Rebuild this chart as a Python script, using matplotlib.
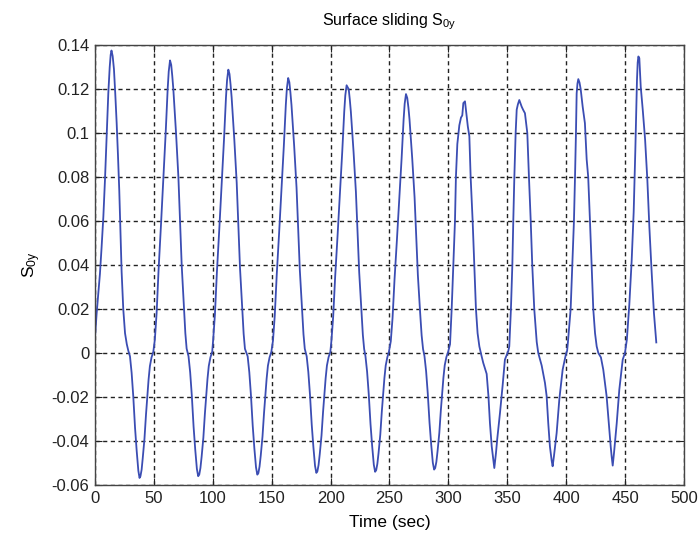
import matplotlib
matplotlib.use('Agg')
import matplotlib.pyplot as plt
from matplotlib.ticker import FixedLocator

plt.rcParams['font.family'] = ['Liberation Sans', 'DejaVu Sans']
plt.rcParams['mathtext.fontset'] = 'custom'
plt.rcParams['mathtext.rm'] = 'Liberation Sans'
plt.rcParams['mathtext.default'] = 'regular'
plt.rcParams['axes.unicode_minus'] = False

# 读图得到的数据: 时间 (sec) 与 S0y
time_sec = [
    # cycle 1
    0, 1.4, 2.8, 4.2, 5.6, 7.1, 8.5, 10, 11.3, 12.5, 13.3, 14, 15, 16.1, 17.2, 18.4, 19.5, 20.6, 21.6, 22.6, 24, 25.5, 27, 28.3,
    29.7, 31.1, 32.5, 34, 35.4, 36.8, 37.8, 38.6, 39.6, 40.5, 42, 43.3, 44.5, 45.5, 46.6, 48, 49.5,
    # cycle 2
    50.8, 52.3, 54, 56, 58, 60, 61.7, 62.6, 63.7, 64.7, 65.6, 66.5, 68.8, 70.8, 72.2, 73.6, 75.6, 76.7, 77.8,
    79.4, 80.8, 82.2, 83.7, 85.1, 86.5, 87.6, 88.5, 89.5, 90.5, 92, 93.3, 94.5, 95.5, 96.6, 98, 99.5,
    # cycle 3
    100.3, 101.8, 103.5, 105.5, 107.5, 109.5, 111.2, 112.1, 113.2, 114.2, 115.1, 116, 118.3, 120.3, 121.7, 123.1, 125.1, 126.2, 127.3,
    129.6, 131, 132.4, 133.9, 135.3, 136.7, 137.8, 138.7, 139.7, 140.7, 142.2, 143.5, 144.7, 145.7, 146.8, 148.2, 149.7,
    # cycle 4
    151.1, 152.6, 154.3, 156.3, 158.3, 160.3, 162, 162.9, 164, 165, 165.9, 166.8, 169.1, 171.1, 172.5, 173.9, 175.9, 177, 178.1,
    179.7, 181.1, 182.5, 184, 185.4, 186.8, 187.9, 188.8, 189.8, 190.8, 192.3, 193.6, 194.8, 195.8, 196.9, 198.3, 199.8,
    # cycle 5
    200.7, 202.2, 203.9, 205.9, 207.9, 209.9, 211.6, 212.5, 213.6, 215.4, 216.3, 217.2, 219.5, 221.5, 222.9, 224.3, 226.3, 227.4, 228.5,
    229.6, 231, 232.4, 233.9, 235.3, 236.7, 237.8, 238.7, 239.7, 240.7, 242.2, 243.5, 244.7, 245.7, 246.8, 248.2, 249.5,
    # cycle 6
    251.1, 252.6, 254.3, 256.3, 258.3, 260.3, 262, 262.9, 264, 265.1, 266.1, 267, 269.3, 271.3, 272.7, 274.1, 276.1, 277.3, 278.5,
    279.7, 281.1, 282.5, 284, 285.4, 286.8, 287.9, 288.8, 289.8, 290.8, 292.3, 293.6, 294.8, 295.8, 296.9, 298.3,
    # cycle 7
    299.8, 301.4, 302.8, 304.2, 305.6, 306.4, 307.6, 309.3, 310.7, 311.8, 312.7, 314.1, 315.5, 316.5, 317.8, 318.9, 320.6, 322, 323.4, 324.8, 326.3,
    328, 329.6, 332.5, 334, 335.3, 336.8, 338.2, 339, 340.4, 341.5, 343.8, 346.1, 348,
    # cycle 8
    350.9, 351.7, 353.1, 354.3, 355.1, 356, 357.1, 358, 359, 360.2, 361.2, 362.2, 363.5, 365, 367, 368.4, 369.9, 371.2, 372.9, 375, 376.3,
    379.2, 382, 383.4, 384.8, 386.2, 387.7, 388.5, 389.6, 391.9, 394.2, 397, 399.8,
    # cycle 9
    400.8, 401.5, 402.6, 403.8, 405.2, 406.6, 407.5, 408.3, 408.9, 409.6, 410.3, 411.3, 412.3, 414, 415.9, 417.4, 418.7, 420.2, 421.6, 423, 424.5, 425.9, 427.3,
    429.5, 431.5, 434.3, 435.7, 437.8, 438.6, 439.5, 440.6, 442.9, 445.1, 448, 449.9,
    # cycle 10
    451.5, 453.6, 455.6, 457.3, 458.7, 459.5, 460.1, 460.7, 461.3, 462.1, 463.3, 465, 467, 468.9, 470.6, 472.6, 474.5, 476.5,
]

s0y = [
    # cycle 1
    0.007, 0.018, 0.027, 0.036, 0.048, 0.062, 0.079, 0.100, 0.118, 0.130, 0.1355, 0.1375, 0.135, 0.129, 0.118, 0.1045, 0.090, 0.074, 0.055, 0.037, 0.020, 0.009, 0.004, 0.001,
    -0.0015, -0.009, -0.0197, -0.034, -0.0445, -0.0535, -0.0568, -0.056, -0.053, -0.048, -0.039, -0.028, -0.019, -0.012, -0.006, -0.002, 0.0005,
    # cycle 2
    0.006, 0.018, 0.038, 0.058, 0.079, 0.10, 0.12, 0.128, 0.133, 0.131, 0.126, 0.12, 0.10, 0.08, 0.06, 0.04, 0.02, 0.009, 0.002,
    -0.0015, -0.0088, -0.0194, -0.0335, -0.0439, -0.0527, -0.056, -0.0553, -0.0523, -0.0473, -0.0385, -0.0276, -0.0187, -0.0118, -0.0059, -0.002, 0.0005,
    # cycle 3
    0.0058, 0.0174, 0.0368, 0.0561, 0.0765, 0.0968, 0.1162, 0.1239, 0.1288, 0.1268, 0.122, 0.1162, 0.0968, 0.0774, 0.0581, 0.0387, 0.0194, 0.0087, 0.0019,
    -0.0015, -0.0087, -0.0192, -0.0331, -0.0434, -0.052, -0.0553, -0.0546, -0.0516, -0.0467, -0.038, -0.0273, -0.0185, -0.0117, -0.0058, -0.002, 0.0005,
    # cycle 4
    0.0056, 0.0169, 0.0357, 0.0545, 0.0743, 0.094, 0.1128, 0.1203, 0.125, 0.1231, 0.1184, 0.1128, 0.094, 0.0752, 0.0564, 0.0376, 0.0188, 0.0085, 0.0019,
    -0.0015, -0.0086, -0.0189, -0.0326, -0.0427, -0.0513, -0.0545, -0.0538, -0.0509, -0.046, -0.0375, -0.0269, -0.0182, -0.0115, -0.0057, -0.0019, 0.0005,
    # cycle 5
    0.0055, 0.0165, 0.0348, 0.0531, 0.0723, 0.0915, 0.1098, 0.1171, 0.1217, 0.1199, 0.1153, 0.1098, 0.0915, 0.0732, 0.0549, 0.0366, 0.0183, 0.0082, 0.0018,
    -0.0014, -0.0085, -0.0187, -0.0323, -0.0423, -0.0508, -0.054, -0.0533, -0.0504, -0.0456, -0.0371, -0.0266, -0.018, -0.0114, -0.0057, -0.0019, 0.0005,
    # cycle 6
    0.0053, 0.0159, 0.0336, 0.0513, 0.0699, 0.0885, 0.1062, 0.1133, 0.1177, 0.1159, 0.1115, 0.1062, 0.0885, 0.0708, 0.0531, 0.0354, 0.0177, 0.008, 0.0018,
    -0.0014, -0.0083, -0.0184, -0.0317, -0.0415, -0.0499, -0.053, -0.0523, -0.0495, -0.0447, -0.0364, -0.0261, -0.0177, -0.0112, -0.0056, -0.0019,
    # cycle 7
    0.0005, 0.004, 0.02, 0.04, 0.06, 0.08, 0.095, 0.1035, 0.107, 0.108, 0.1136, 0.1144, 0.1076, 0.103, 0.0985, 0.08, 0.06, 0.04, 0.02, 0.009, 0.003,
    -0.001, -0.0045, -0.0095, -0.0195, -0.032, -0.0425, -0.049, -0.0523, -0.0455, -0.039, -0.0273, -0.0145, -0.003,
    # cycle 8
    0.001, 0.003, 0.02, 0.04, 0.06, 0.08, 0.10, 0.1106, 0.113, 0.115, 0.1135, 0.112, 0.1105, 0.109, 0.10, 0.08, 0.06, 0.04, 0.02, 0.005, 0.0,
    -0.0057, -0.0136, -0.0195, -0.032, -0.0425, -0.049, -0.0515, -0.047, -0.0364, -0.021, -0.0076, -0.0005,
    # cycle 9
    0.001, 0.005, 0.012, 0.02, 0.04, 0.06, 0.08, 0.10, 0.118, 0.1225, 0.1245, 0.123, 0.12, 0.112, 0.1045, 0.088, 0.08, 0.06, 0.04, 0.02, 0.009, 0.003, 0.0,
    -0.002, -0.0076, -0.0195, -0.0288, -0.0425, -0.047, -0.0512, -0.0455, -0.032, -0.0167, -0.003, 0.0,
    # cycle 10
    0.006, 0.022, 0.042, 0.064, 0.092, 0.11, 0.124, 0.132, 0.1348, 0.134, 0.121, 0.1106, 0.097, 0.0788, 0.0575, 0.0364, 0.0182, 0.0048,
]

x_ticks = [0, 50, 100, 150, 200, 250, 300, 350, 400, 450, 500]
y_ticks = [-0.06, -0.04, -0.02, 0, 0.02, 0.04, 0.06, 0.08, 0.1, 0.12, 0.14]
y_tick_labels = ['-0.06', '-0.04', '-0.02', '0', '0.02', '0.04', '0.06', '0.08', '0.1', '0.12', '0.14']

fig = plt.figure(figsize=(7.0, 5.34), dpi=100)
ax = fig.add_axes([0.1357, 0.0918, 0.8414, 0.8239])

ax.plot(time_sec, s0y, color='#3b4db3', linewidth=1.3)

ax.set_xlim(0, 500)
ax.set_ylim(-0.06, 0.14)
ax.xaxis.set_major_locator(FixedLocator(x_ticks))
ax.yaxis.set_major_locator(FixedLocator(y_ticks))
ax.set_yticklabels(y_tick_labels)

ax.grid(True, color='#222222', linestyle=(0, (3, 2.5)), linewidth=1.0)
ax.tick_params(direction='in', length=5, width=0.8, top=True, right=True,
               labelsize=12, colors='#222222', pad=4)
for s in ax.spines.values():
    s.set_color('#444444')
    s.set_linewidth(1.0)

ax.set_title(r'Surface sliding S$_{0y}$', fontsize=11.5, pad=14)
ax.set_xlabel('Time (sec)', fontsize=12.5, labelpad=7)
ax.set_ylabel(r'S$_{0y}$', fontsize=12.5, labelpad=6)

fig.savefig('out.png', dpi=100)
